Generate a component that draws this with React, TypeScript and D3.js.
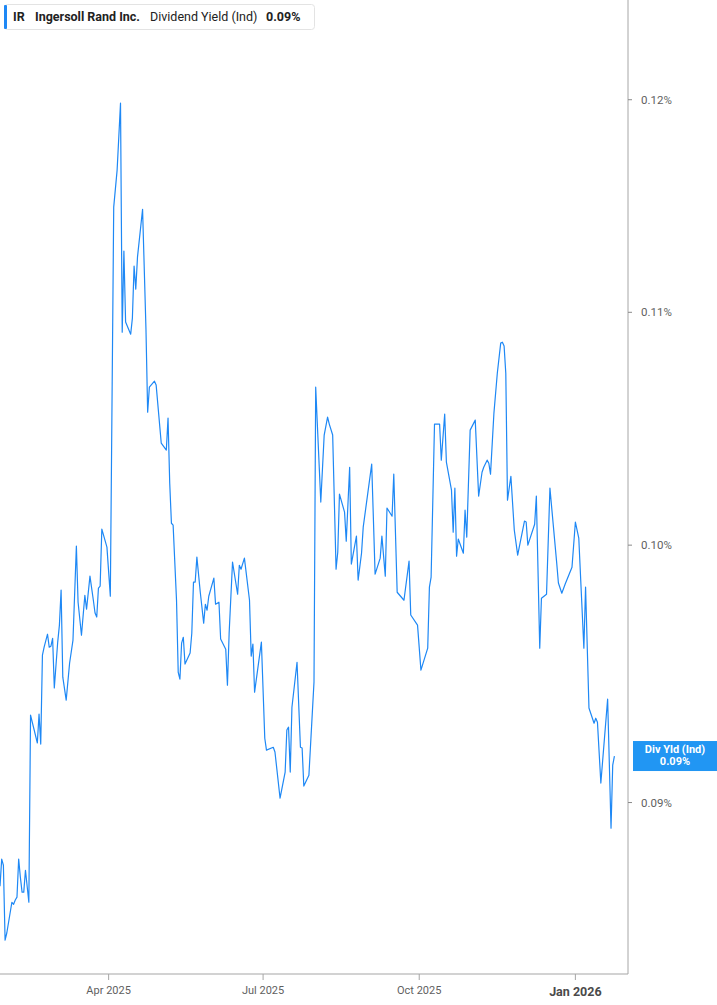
import React from "react";
import * as d3 from "d3";

const dates: string[] = [
  "2025-01-27","2025-01-28","2025-01-29","2025-01-30","2025-01-31","2025-02-03","2025-02-04","2025-02-05","2025-02-06","2025-02-07",
  "2025-02-08","2025-02-09","2025-02-10","2025-02-11","2025-02-13","2025-02-14","2025-02-15","2025-02-18","2025-02-19","2025-02-20",
  "2025-02-21","2025-02-22","2025-02-24","2025-02-25","2025-02-26","2025-02-27","2025-02-28","2025-03-02","2025-03-03","2025-03-04",
  "2025-03-05","2025-03-07","2025-03-09","2025-03-11","2025-03-13","2025-03-14","2025-03-16","2025-03-18","2025-03-19","2025-03-21",
  "2025-03-23","2025-03-24","2025-03-25","2025-03-26","2025-03-27","2025-03-28","2025-03-31","2025-04-02","2025-04-04","2025-04-06",
  "2025-04-08","2025-04-09","2025-04-10","2025-04-11","2025-04-14","2025-04-15","2025-04-16","2025-04-17","2025-04-18","2025-04-21",
  "2025-04-23","2025-04-24","2025-04-25","2025-04-28","2025-04-29","2025-05-02","2025-05-05","2025-05-06","2025-05-07","2025-05-08",
  "2025-05-09","2025-05-11","2025-05-12","2025-05-13","2025-05-14","2025-05-15","2025-05-16","2025-05-19","2025-05-20","2025-05-21",
  "2025-05-22","2025-05-23","2025-05-25","2025-05-27","2025-05-28","2025-05-29","2025-05-30","2025-06-02","2025-06-03","2025-06-05",
  "2025-06-06","2025-06-09","2025-06-10","2025-06-11","2025-06-13","2025-06-16","2025-06-17","2025-06-18","2025-06-20","2025-06-23",
  "2025-06-24","2025-06-25","2025-06-26","2025-06-30","2025-07-02","2025-07-03","2025-07-07","2025-07-08","2025-07-11","2025-07-14",
  "2025-07-15","2025-07-16","2025-07-17","2025-07-18","2025-07-21","2025-07-23","2025-07-24","2025-07-25","2025-07-28","2025-07-31",
  "2025-08-01","2025-08-04","2025-08-06","2025-08-08","2025-08-09","2025-08-11","2025-08-13","2025-08-14","2025-08-15","2025-08-18",
  "2025-08-19","2025-08-21","2025-08-22","2025-08-25","2025-08-26","2025-08-28","2025-08-29","2025-09-03","2025-09-05","2025-09-08",
  "2025-09-09","2025-09-11","2025-09-12","2025-09-15","2025-09-16","2025-09-18","2025-09-22","2025-09-25","2025-09-26","2025-09-30",
  "2025-10-02","2025-10-06","2025-10-07","2025-10-08","2025-10-10","2025-10-13","2025-10-14","2025-10-16","2025-10-17","2025-10-20",
  "2025-10-21","2025-10-22","2025-10-23","2025-10-24","2025-10-27","2025-10-28","2025-10-29","2025-10-31","2025-11-03","2025-11-05",
  "2025-11-07","2025-11-08","2025-11-10","2025-11-11","2025-11-12","2025-11-14","2025-11-16","2025-11-18","2025-11-19","2025-11-20",
  "2025-11-21","2025-11-22","2025-11-24","2025-11-26","2025-11-28","2025-12-02","2025-12-03","2025-12-04","2025-12-08","2025-12-09",
  "2025-12-11","2025-12-12","2025-12-15","2025-12-17","2025-12-21","2025-12-22","2025-12-24","2025-12-26","2025-12-30","2026-01-01",
  "2026-01-03","2026-01-06","2026-01-07","2026-01-09","2026-01-12","2026-01-13","2026-01-14","2026-01-16","2026-01-20","2026-01-22",
  "2026-01-23","2026-01-24",
];

const yields: number[] = [
  0.08697,0.08794,0.08772,0.08507,0.08532,0.08640,0.08633,0.08648,0.08658,0.08794,
  0.08729,0.08676,0.08676,0.08754,0.08640,0.09328,0.09301,0.09222,0.09332,0.09218,
  0.09560,0.09591,0.09642,0.09591,0.09595,0.09626,0.09432,0.09611,0.09678,0.09818,
  0.09474,0.09385,0.09528,0.09619,0.09996,0.09769,0.09638,0.09797,0.09741,0.09874,
  0.09777,0.09726,0.09710,0.09826,0.09834,0.10066,0.09992,0.09793,0.11484,0.11659,
  0.11983,0.10911,0.11279,0.10956,0.10902,0.10974,0.11210,0.11105,0.11251,0.11474,
  0.10924,0.10559,0.10668,0.10694,0.10677,0.10426,0.10397,0.10534,0.10257,0.10090,
  0.10082,0.09777,0.09493,0.09466,0.09607,0.09630,0.09525,0.09568,0.09646,0.09850,
  0.09850,0.09951,0.09809,0.09686,0.09761,0.09737,0.09793,0.09866,0.09761,0.09769,
  0.09623,0.09583,0.09443,0.09646,0.09931,0.09801,0.09918,0.09902,0.09947,0.09777,
  0.09556,0.09603,0.09416,0.09611,0.09240,0.09195,0.09206,0.09188,0.09016,0.09113,
  0.09271,0.09282,0.09113,0.09358,0.09532,0.09206,0.09203,0.09061,0.09101,0.09455,
  0.10668,0.10178,0.10461,0.10538,0.10508,0.10461,0.09902,0.09971,0.10211,0.10136,
  0.10016,0.10324,0.09923,0.10037,0.09858,0.09967,0.10074,0.10337,0.09882,0.09947,
  0.10037,0.09874,0.10153,0.10119,0.10295,0.09809,0.09777,0.09935,0.09718,0.09678,
  0.09501,0.09587,0.09830,0.09870,0.10508,0.10508,0.10354,0.10551,0.10346,0.10228,
  0.10053,0.10236,0.09955,0.10025,0.09967,0.10144,0.10033,0.10482,0.10525,0.10203,
  0.10303,0.10324,0.10354,0.10341,0.10295,0.10555,0.10729,0.10862,0.10866,0.10849,
  0.10729,0.10186,0.10286,0.10062,0.09959,0.10099,0.10095,0.10000,0.10086,0.10203,
  0.09587,0.09785,0.09801,0.10236,0.09927,0.09846,0.09805,0.09842,0.09910,0.10095,
  0.10029,0.09587,0.09830,0.09355,0.09297,0.09316,0.09301,0.09072,0.09389,0.08906,
  0.09139,0.09173,
];

const xTickDates: string[] = ["2025-04-01", "2025-07-01", "2025-10-01", "2026-01-01"];
const xTickLabels: string[] = ["Apr 2025", "Jul 2025", "Oct 2025", "Jan 2026"];
const yTicks: number[] = [0.09, 0.10, 0.11, 0.12];
const yTickLabels: string[] = ["0.09%", "0.10%", "0.11%", "0.12%"];
const xDomain: string[] = ["2025-01-27", "2026-02-01"];
const yDomain: number[] = [0.0839, 0.125];

const ticker = "IR";
const company = "Ingersoll Rand Inc.";
const metric = "Dividend Yield (Ind)";
const lastLabel = "0.09%";
const tagLine1 = "Div Yld (Ind)";

const W = 717;
const H = 1005;
const plotRight = 628;
const plotBottom = 974;
const BLUE = "#1e88f5";
const FONT = "Roboto, 'Noto Sans', sans-serif";

export default function App() {
  const parse = d3.utcParse("%Y-%m-%d");
  const data = dates.map((d, i) => ({ date: parse(d) as Date, value: yields[i] }));
  const x = d3.scaleUtc().domain(xDomain.map((d) => parse(d) as Date)).range([0, plotRight]);
  const y = d3.scaleLog().domain(yDomain).range([plotBottom, 0]);
  const line = d3
    .line<{ date: Date; value: number }>()
    .x((d) => x(d.date))
    .y((d) => y(d.value))
    .curve(d3.curveLinear);
  const last = data[data.length - 1];
  const lastY = y(last.value);

  return (
    <svg
      width={W}
      height={H}
      style={{ position: "absolute", left: 0, top: 0, background: "#fff" }}
      fontFamily={FONT}
    >
      <rect x={0} y={0} width={W} height={H} fill="#fff" />
      {/* axes */}
      <line x1={plotRight} x2={plotRight} y1={0} y2={plotBottom} stroke="#a6a6a6" strokeWidth={1} />
      <line x1={0} x2={plotRight} y1={plotBottom} y2={plotBottom} stroke="#a6a6a6" strokeWidth={1.2} />
      {xTickDates.map((d, i) => {
        const px = x(parse(d) as Date);
        const isYear = i === xTickDates.length - 1;
        return (
          <g key={d}>
            <line x1={px} x2={px} y1={plotBottom} y2={plotBottom + 6} stroke="#a6a6a6" />
            <text
              x={px}
              y={isYear ? 996 : 994}
              textAnchor="middle"
              fontSize={isYear ? 12.5 : 11}
              fontWeight={isYear ? 700 : 400}
              fill={isYear ? "#4a4a4a" : "#5f5f5f"}
            >
              {xTickLabels[i]}
            </text>
          </g>
        );
      })}
      {yTicks.map((t, i) => (
        <g key={t}>
          <line x1={plotRight} x2={plotRight + 4} y1={y(t)} y2={y(t)} stroke="#8a8a8a" />
          <text x={641} y={y(t) + 4} fontSize={11.5} fill="#5f5f5f">
            {yTickLabels[i]}
          </text>
        </g>
      ))}
      {/* series */}
      <path d={line(data) || ""} fill="none" stroke={BLUE} strokeWidth={1.2} strokeLinejoin="round" />
      {/* last value tag */}
      <rect x={633} y={lastY - 15} width={86} height={30} fill="#2196f3" />
      <text x={675} y={lastY - 3} textAnchor="middle" fontSize={11} fontWeight={700} fill="#fff">
        {tagLine1}
      </text>
      <text x={675} y={lastY + 9} textAnchor="middle" fontSize={11} fontWeight={700} fill="#fff">
        {lastLabel}
      </text>
      {/* legend */}
      <rect x={4.5} y={4.5} width={310} height={25} rx={3} fill="#fff" stroke="#e3e3e3" />
      <rect x={4} y={5} width={3} height={24} rx={1} fill={BLUE} />
      <text x={13} y={21} fontSize={12.5} fontWeight={700} fill="#222">
        {ticker}
      </text>
      <text x={35} y={21} fontSize={12.5} fontWeight={700} fill="#222">
        {company}
      </text>
      <text x={150} y={21} fontSize={12.5} fontWeight={400} fill="#222">
        {metric}
      </text>
      <text x={266} y={21} fontSize={12.5} fontWeight={700} fill="#222">
        {lastLabel}
      </text>
    </svg>
  );
}
